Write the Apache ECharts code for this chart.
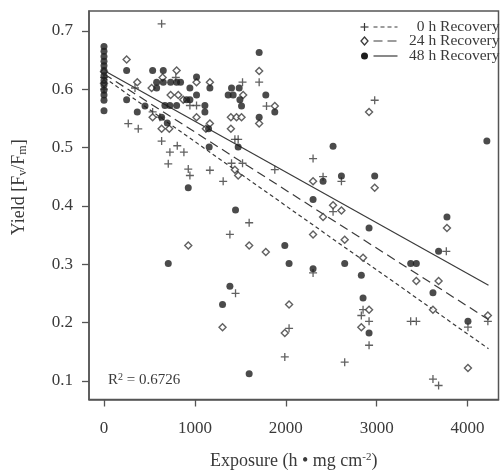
<!DOCTYPE html>
<html>
<head>
<meta charset="utf-8">
<script src="https://cdn.jsdelivr.net/npm/echarts@6/dist/echarts.min.js"></script>
<style>html,body{margin:0;padding:0;background:#fff}#c{width:501px;height:475px}</style>
</head>
<body>
<div id="c"></div>
<script>
// ---- data ----
const xTicks = [0, 1000, 2000, 3000, 4000];
const yTicks = [0.1, 0.2, 0.3, 0.4, 0.5, 0.6, 0.7];
const seriesNames = ['0 h Recovery', '24 h Recovery', '48 h Recovery'];

const rec0h = [
  [634,0.712],[341,0.602],[267,0.541],[377,0.532],[535,0.561],[615,0.552],[634,0.511],
  [806,0.503],[725,0.492],[879,0.492],[707,0.472],[927,0.463],[945,0.452],[1165,0.461],
  [1311,0.442],[1524,0.612],[1707,0.612],[1788,0.571],[945,0.572],[1018,0.572],[1440,0.514],
  [1476,0.514],[1403,0.473],[1524,0.473],[1879,0.462],[1597,0.371],[1385,0.351],[1447,0.250],
  [2036,0.190],[1989,0.141],[2520,0.390],[2300,0.285],[2850,0.222],[2831,0.212],[2916,0.202],
  [2916,0.161],[2648,0.132],[3374,0.202],[3436,0.202],[3766,0.322],[3619,0.103],[3681,0.092],
  [4004,0.192],[4223,0.202],[2978,0.581],[2300,0.481],[2410,0.450],[2612,0.442],[790,0.620],
  [0,0.600],[0,0.620]
];
const rec24h = [
  [249,0.651],[366,0.612],[645,0.620],[524,0.602],[799,0.632],[1018,0.612],[733,0.590],
  [817,0.590],[872,0.582],[1165,0.612],[1018,0.552],[535,0.552],[634,0.532],[718,0.532],
  [1165,0.541],[1121,0.532],[1707,0.631],[1879,0.571],[1531,0.590],[1396,0.552],[1458,0.552],
  [1513,0.552],[1707,0.541],[1396,0.532],[1440,0.462],[1476,0.452],[927,0.332],[1597,0.332],
  [1780,0.321],[1304,0.192],[2036,0.231],[1989,0.182],[2520,0.401],[2612,0.392],[2410,0.381],
  [2300,0.351],[2648,0.342],[2850,0.311],[2916,0.222],[2831,0.192],[3436,0.271],[3619,0.222],
  [3681,0.271],[3773,0.362],[4004,0.122],[4223,0.212],[2916,0.561],[2300,0.442],[2978,0.431],
  [0,0.610],[0,0.630]
];
const rec48h = [
  [0,0.673],[0,0.665],[0,0.656],[0,0.648],[0,0.640],[0,0.632],[0,0.623],[0,0.615],[0,0.607],
  [0,0.598],[0,0.590],[0,0.581],[0,0.563],
  [249,0.632],[249,0.582],[366,0.561],[451,0.571],[535,0.632],[652,0.632],[579,0.612],
  [652,0.612],[579,0.602],[733,0.612],[799,0.612],[842,0.612],[1018,0.621],[945,0.602],
  [1018,0.590],[908,0.582],[945,0.582],[670,0.572],[725,0.572],[799,0.572],[1110,0.572],
  [1110,0.561],[1165,0.602],[696,0.542],[634,0.552],[1150,0.532],[1157,0.501],[927,0.431],
  [1447,0.393],[1707,0.663],[1780,0.590],[1879,0.561],[1403,0.602],[1487,0.602],[1366,0.590],
  [1421,0.590],[1495,0.582],[1513,0.571],[1707,0.552],[1476,0.501],[1989,0.332],[707,0.301],
  [2036,0.301],[1385,0.262],[1304,0.231],[1597,0.112],[2300,0.411],[2916,0.362],[2300,0.292],
  [2648,0.301],[2831,0.281],[2850,0.242],[2916,0.182],[3374,0.301],[3436,0.301],[3619,0.251],
  [3681,0.322],[3773,0.381],[4004,0.202],[2520,0.502],[2410,0.442],[2612,0.451],[2978,0.451],
  [4212,0.511]
];
// regression line end points
const fit0h = [[0,0.620],[4230,0.155]];
const fit24h = [[0,0.626],[4230,0.205]];
const fit48h = [[0,0.632],[4230,0.264]];
const r2Text = '0.6726';

// ---- chart ----
const ink = '#3a3a3a';
const font = '"Liberation Serif","DejaVu Serif",serif';
const crossPath = 'path://M0,-1L0,1M-1,0L1,0';
const chart = echarts.init(document.getElementById('c'), null, {renderer:'canvas'});

const option = {
  backgroundColor: '#fff',
  animation: false,
  grid: {left: 89, right: 2.5, top: 11, bottom: 70, show: true, borderColor: '#555', borderWidth: 1.5, backgroundColor:'transparent'},
  xAxis: {
    type: 'value', min: -165, max: 4340,
    splitLine: {show: false},
    axisLine: {show: true, onZero: false, lineStyle: {color: '#555', width: 1.5}},
    axisTick: {show: true, inside: false, length: 7, customValues: xTicks, lineStyle: {color: '#555', width: 1.3}},
    axisLabel: {customValues: xTicks, color: ink, fontFamily: font, fontSize: 17, margin: 21,
      formatter: v => String(v)},
    name: 'Exposure (h • mg cm{sup|-2})', nameLocation: 'middle', nameGap: 52,
    nameTextStyle: {color: ink, fontFamily: font, fontSize: 18,
      rich: {sup: {fontSize: 11, fontFamily: font, color: ink, verticalAlign: 'top', padding: [0,0,8,0]}}}
  },
  yAxis: {
    type: 'value', min: 0.068, max: 0.734,
    splitLine: {show: false},
    axisLine: {show: true, onZero: false, lineStyle: {color: '#555', width: 1.5}},
    axisTick: {show: true, inside: false, length: 7, customValues: yTicks, lineStyle: {color: '#555', width: 1.3}},
    axisLabel: {customValues: yTicks, color: ink, fontFamily: font, fontSize: 17, margin: 16,
      formatter: v => v.toFixed(1)},
    name: 'Yield [F{sub|v}/F{sub|m}]', nameLocation: 'middle', nameGap: 60, nameRotate: 90,
    nameTextStyle: {color: ink, fontFamily: font, fontSize: 18, padding: [0,0,0,36],
      rich: {sub: {fontSize: 12, fontFamily: font, color: ink, verticalAlign: 'bottom', padding: [8,0,0,0]}}}
  },
  series: [
    {name: seriesNames[0], type: 'scatter', data: rec0h, symbol: crossPath, symbolSize: 8,
     itemStyle: {color: 'rgba(0,0,0,0)', borderColor: ink, borderWidth: 1.3}, z: 3},
    {name: seriesNames[1], type: 'scatter', data: rec24h, symbol: 'diamond', symbolSize: 7,
     itemStyle: {color: '#fff', borderColor: ink, borderWidth: 1.4}, z: 4},
    {name: seriesNames[2], type: 'scatter', data: rec48h, symbol: 'circle', symbolSize: 7,
     itemStyle: {color: '#1e1e1e'}, z: 5},
    {type: 'line', data: fit0h, symbol: 'none', lineStyle: {color: ink, width: 1.2, type: [4,3]}, z: 2},
    {type: 'line', data: fit24h, symbol: 'none', lineStyle: {color: ink, width: 1.2, type: [9,5]}, z: 2},
    {type: 'line', data: fit48h, symbol: 'none', lineStyle: {color: ink, width: 1.2}, z: 2}
  ],
  graphic: [
    // legend
    {type:'group', left: 358, top: 19, children: [
      {type:'line', shape:{x1:5,y1:3,x2:5,y2:11}, style:{stroke: ink, lineWidth:1.2}},
      {type:'line', shape:{x1:1,y1:7,x2:9,y2:7}, style:{stroke: ink, lineWidth:1.2}},
      {type:'line', shape:{x1:14,y1:7,x2:38,y2:7}, style:{stroke: ink, lineWidth:1.2, lineDash:[4,3]}},
      {type:'text', style:{x:140, y:7, text: seriesNames[0], font: '15.5px '+font, fill: ink, align:'right', verticalAlign:'middle'}},
      {type:'polygon', shape:{points:[[5,17],[8.5,21],[5,25],[1.5,21]]}, style:{stroke: ink, lineWidth:1.3, fill:'#fff'}},
      {type:'line', shape:{x1:14,y1:21,x2:38,y2:21}, style:{stroke: ink, lineWidth:1.2, lineDash:[9,5]}},
      {type:'text', style:{x:140, y:21, text: seriesNames[1], font: '15.5px '+font, fill: ink, align:'right', verticalAlign:'middle'}},
      {type:'circle', shape:{cx:5, cy:36, r:3.5}, style:{fill:'#1e1e1e'}},
      {type:'line', shape:{x1:14,y1:36,x2:38,y2:36}, style:{stroke: ink, lineWidth:1.2}},
      {type:'text', style:{x:140, y:36, text: seriesNames[2], font: '15.5px '+font, fill: ink, align:'right', verticalAlign:'middle'}}
    ]},
    {type:'text', left: 108, top: 372, style:{text:'R{sup|2} = ' + r2Text, font:'15px '+font, fill: ink,
      rich:{sup:{fontSize:10, fontFamily: font, fill: ink, verticalAlign:'top', padding:[0,0,6,0]}}}}
  ]
};
chart.setOption(option);
</script>
</body>
</html>
